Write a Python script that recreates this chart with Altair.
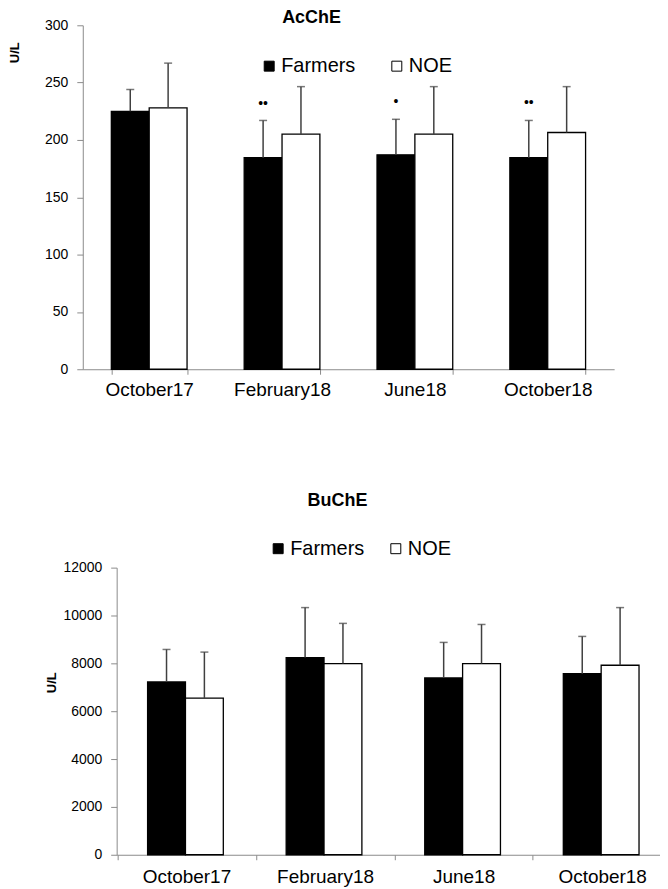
import altair as alt
import pandas as pd

categories = ["October17", "February18", "June18", "October18"]
groups = ["Farmers", "NOE"]

ache_farmers_mean = [225, 184.5, 187, 184.5]
ache_farmers_sd = [19, 32.5, 31, 32.5]
ache_noe_mean = [228, 205, 205, 206.5]
ache_noe_sd = [39, 41.5, 41.5, 40]
ache_sig_text = ["", "••", "•", "••"]
ache_sig_y = [None, 231, 233, 232]

buche_farmers_mean = [7220, 8240, 7390, 7570]
buche_farmers_sd = [1360, 2090, 1485, 1555]
buche_noe_mean = [6550, 7990, 7990, 7920]
buche_noe_sd = [1920, 1680, 1635, 2410]

FONT = "Liberation Sans"


def build(fm, fs, nm, ns):
    rows = []
    for i, c in enumerate(categories):
        rows.append({"cat": c, "group": "Farmers", "mean": fm[i], "top": fm[i] + fs[i]})
        rows.append({"cat": c, "group": "NOE", "mean": nm[i], "top": nm[i] + ns[i]})
    return pd.DataFrame(rows)


def panel(df, title, title_dx, title_offset, ymax, ystep, width, height,
          xscale, xaxis, legx, legy, legpad, ytx, yty, sig=None):
    x = alt.X("cat:N", sort=categories, scale=xscale, axis=xaxis)
    xo = alt.XOffset("group:N", sort=groups,
                     scale=alt.Scale(domain=groups, paddingInner=0, paddingOuter=0))
    yaxis = alt.Axis(values=list(range(0, ymax + 1, ystep)), format="d", title="U/L",
                     titleFont=FONT, titleFontSize=13, titleFontWeight="bold",
                     titleColor="black", titleX=ytx, titleY=yty,
                     grid=False, domainColor="#8c8c8c", tickColor="#8c8c8c", tickSize=6,
                     labelPadding=9, labelFont=FONT, labelFontSize=14, labelColor="black")
    y = alt.Y("mean:Q", scale=alt.Scale(domain=[0, ymax], nice=False), axis=yaxis)
    base = alt.Chart(df)
    bars = base.mark_bar(stroke="black", strokeWidth=1.3).encode(
        x=x, xOffset=xo, y=y,
        fill=alt.Fill("group:N", sort=groups,
                      scale=alt.Scale(domain=groups, range=["#000000", "#ffffff"]),
                      legend=alt.Legend(orient="none", legendX=legx, legendY=legy,
                                        direction="horizontal", title=None,
                                        symbolType="square", symbolSize=100,
                                        symbolStrokeColor="black", symbolStrokeWidth=1,
                                        labelFont=FONT, labelFontSize=20, labelColor="black",
                                        columnPadding=legpad, labelOffset=2, padding=0)),
    )
    rules = base.mark_rule(color="#404040", strokeWidth=1.5).encode(
        x=x, xOffset=xo, y="mean:Q", y2="top:Q")
    caps = base.mark_tick(color="#404040", thickness=1.5, size=8).encode(
        x=x, xOffset=xo, y="top:Q")
    layers = [bars, rules, caps]
    if sig is not None:
        texts = alt.Chart(sig).mark_text(fontSize=14, color="black", baseline="middle").encode(
            x=x, xOffset=xo, y="y:Q", text="t:N")
        layers.append(texts)
    return alt.layer(*layers).properties(
        width=width, height=height,
        title=alt.TitleParams(title, font=FONT, fontSize=18, fontWeight="bold",
                              color="black", anchor="middle", dx=title_dx,
                              offset=title_offset))


def spacer(w):
    # empty, invisible panel used only to shift a row to the right
    return alt.Chart(pd.DataFrame({"v": [0]})).mark_point(opacity=0, size=1).encode(
        x=alt.value(w / 2), y=alt.value(5)).properties(width=w, height=10)


ache_df = build(ache_farmers_mean, ache_farmers_sd, ache_noe_mean, ache_noe_sd)
buche_df = build(buche_farmers_mean, buche_farmers_sd, buche_noe_mean, buche_noe_sd)
sig_df = pd.DataFrame({"cat": categories, "group": ["Farmers"] * 4,
                       "t": ache_sig_text, "y": ache_sig_y}).dropna()

top_xaxis = alt.Axis(title=None, labelAngle=0, labelFont=FONT, labelFontSize=19,
                     labelColor="black", domainColor="#8c8c8c", tickColor="#8c8c8c",
                     tickSize=5, tickBand="extent", labelPadding=6, grid=False)
top = panel(ache_df, "AcChE", -37, -9, 300, 50, 533, 345,
            alt.Scale(paddingInner=0.43, paddingOuter=0.215), top_xaxis,
            252, 31, 31, -61, 27, sig=sig_df)

bot_xaxis = alt.Axis(title=None, labelAngle=0, labelFont=FONT, labelFontSize=19,
                     labelColor="black", domainColor="#8c8c8c", tickColor="#8c8c8c",
                     tickSize=5, tickOffset=-69.5, labelOffset=69.5, labelPadding=8,
                     grid=False)
bottom = panel(buche_df, "BuChE", -51, 51, 12000, 2000, 545, 288,
               alt.Scale(paddingInner=0.439, paddingOuter=0.18, align=0.62), bot_xaxis,
               261, -29, 21, -58.5, 115)

chart = alt.vconcat(
    alt.hconcat(spacer(1), top, spacing=0),
    alt.hconcat(spacer(37), bottom, spacing=0),
    spacing=93,
).resolve_legend(fill="independent").configure_view(stroke=None).properties(
    padding={"left": 0, "top": 0, "right": 0, "bottom": 0})

chart.save("out.html", embed_options={"renderer": "svg", "actions": False})
